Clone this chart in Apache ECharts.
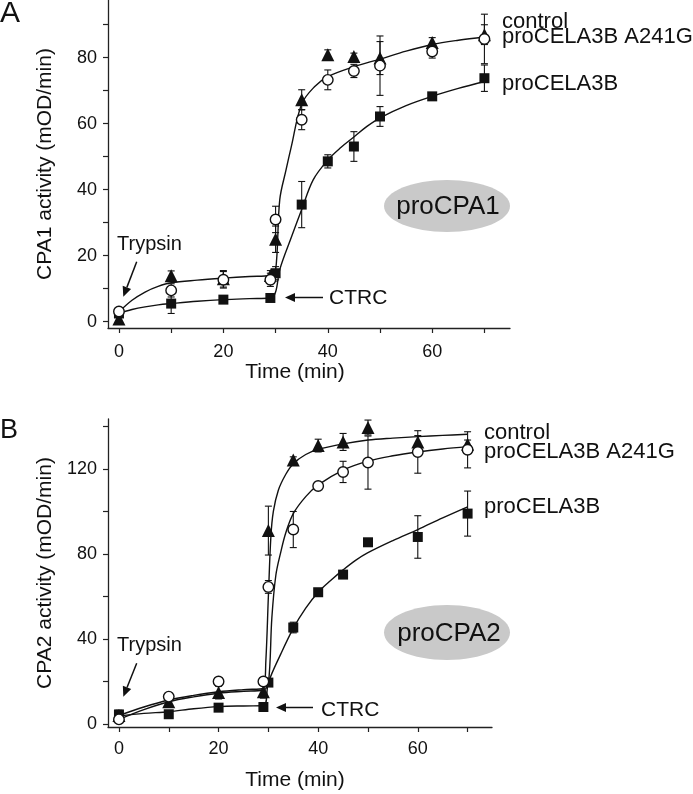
<!DOCTYPE html>
<html>
<head>
<meta charset="utf-8">
<script src="https://cdn.jsdelivr.net/npm/echarts@6/dist/echarts.min.js"></script>
<style>
  html, body { margin: 0; padding: 0; background: #fff; }
  #chart { width: 693px; height: 794px; }
</style>
</head>
<body>
<div id="chart"></div>
<script>
const times = [0, 10, 20, 29, 30, 35, 40, 45, 50, 60, 70];

// panel A - proCPA1
const cpa1Control = [0.8, 13.9, 13, 14, 25, 67.3, 80.9, 80.4, 79.9, 84.6, 87];
const cpa1ControlErr = [1, 1.5, 2.5, 1.5, 4, 3, 1.5, 1, 5, 1.5, 3];
const cpa1Mutant = [3.1, 9.5, 12.7, 12.7, 31, 61.2, 73.3, 76, 77.6, 81.9, 85.7];
const cpa1MutantErr = [1, 2, 2.5, 2, 4, 3, 3, 2, 9, 2, 7.5];
const cpa1Cela = [2.5, 5.5, 6.7, 7.2, 14.7, 35.5, 48.6, 53.1, 62.2, 68.3, 73.8];
const cpa1CelaErr = [1, 3, 1, 1, 2, 7, 2, 4.5, 3, 1, 4];
// fitted curves
const cpa1FitUpper = [[0, 3], [2.5, 6.5], [5, 9], [7.5, 10.7], [10, 11.8], [15, 12.6], [20, 13.2], [25, 13.7], [29, 14], [30, 15.5], [30.8, 37], [32, 46], [33, 53], [35, 66], [37.5, 71.3], [40, 74.3], [45, 77.3], [50, 79.6], [55, 82], [60, 84], [65, 85.3], [70, 86.3]];
const cpa1FitCela = [[0, 2.6], [2.5, 3.7], [5, 4.5], [7.5, 5.1], [10, 5.5], [15, 6.2], [20, 6.7], [25, 7], [29, 7.2], [30, 9], [30.8, 15.8], [33, 25.5], [35, 34], [37.2, 43], [40, 49], [42.5, 52.8], [45, 56], [47.5, 59.2], [50, 61.8], [55, 65.5], [60, 68.3], [65, 70.7], [70, 72.8]];

// panel B - proCPA2
const cpa2Control = [4, 10.5, 14.8, 15.2, 91, 124.2, 131, 132.7, 139.5, 132.7, 131.6];
const cpa2ControlErr = [2, 2, 3, 3, 11.5, 1.5, 3, 4, 3.5, 3, 2];
const cpa2Mutant = [2.2, 12.9, 20, 20, 64.5, 91.5, 112, 118.6, 123, 128, 129];
const cpa2MutantErr = [1, 1, 1, 1, 3, 8.5, 1.5, 5, 12.5, 10, 8.5];
const cpa2Cela = [4.5, 4.6, 7.7, 8, 19.5, 45.4, 62, 70.3, 85.5, 88, 99];
const cpa2CelaErr = [2, 1, 1, 1, 1, 2.5, 1, 1, 1, 10, 10.6];
const cpa2FitControl = [[0, 4], [5, 8], [10, 11.3], [15, 13.5], [20, 15.2], [25, 16.2], [29, 16.8], [29.5, 30], [30, 60], [30.5, 88], [31, 100], [32, 110], [33.5, 117.5], [35, 122.5], [37.5, 126.8], [40, 129.2], [45, 131.8], [50, 133.6], [55, 134.5], [60, 135.2], [65, 135.8], [70, 136.3]];
const cpa2FitMutant = [[0, 2.2], [5, 6.8], [10, 10.5], [15, 12.8], [20, 14.5], [25, 15.4], [29, 16], [30, 19], [30.7, 50], [31.5, 70], [32.5, 81], [33.5, 90], [35, 99], [37.5, 107], [40, 112.5], [45, 119.5], [50, 123.7], [55, 126.2], [60, 128], [65, 129.4], [70, 130.5]];
const cpa2FitCela = [[0, 3.8], [5, 5], [10, 5.8], [15, 7.2], [20, 8.2], [25, 8.5], [29, 8.6], [30, 19.5], [32.5, 33], [35, 45], [37.5, 54.5], [40, 62], [42.5, 67.5], [45, 72.5], [47.5, 77], [50, 80.6], [55, 86.3], [60, 91.5], [65, 97], [70, 102.2]];

const xTicks = [0, 10, 20, 30, 40, 50, 60, 70];
const xLabels = [0, 20, 40, 60];
const yTicksA = [0, 10, 20, 30, 40, 50, 60, 70, 80, 90];
const yLabelsA = [0, 20, 40, 60, 80];
const yTicksB = [0, 20, 40, 60, 80, 100, 120, 140];
const yLabelsB = [0, 40, 80, 120];

const FONT = "'Liberation Sans', Arial, sans-serif";
const INK = '#111';

function pts(vals) {
  return times.map((t, i) => [t, vals[i]]);
}
function errPts(vals, errs) {
  return times.map((t, i) => [t, vals[i], errs[i]]);
}

function errorBars(idx, vals, errs) {
  return {
    type: 'custom',
    xAxisIndex: idx,
    yAxisIndex: idx,
    data: errPts(vals, errs),
    z: 1,
    renderItem: function (params, api) {
      const x = api.value(0), y = api.value(1), e = api.value(2);
      const top = api.coord([x, y + e]);
      const bot = api.coord([x, y - e]);
      const w = 3.5;
      const st = { stroke: INK, lineWidth: 1.1 };
      return {
        type: 'group',
        children: [
          { type: 'line', shape: { x1: top[0], y1: top[1], x2: bot[0], y2: bot[1] }, style: st },
          { type: 'line', shape: { x1: top[0] - w, y1: top[1], x2: top[0] + w, y2: top[1] }, style: st },
          { type: 'line', shape: { x1: bot[0] - w, y1: bot[1], x2: bot[0] + w, y2: bot[1] }, style: st }
        ]
      };
    }
  };
}

function fitLine(idx, data) {
  return {
    type: 'line',
    xAxisIndex: idx,
    yAxisIndex: idx,
    data: data,
    smooth: 0.35,
    showSymbol: false,
    lineStyle: { color: INK, width: 1.4 },
    z: 2,
    silent: true
  };
}

function marks(idx, vals, symbol, size, filled) {
  return {
    type: 'scatter',
    xAxisIndex: idx,
    yAxisIndex: idx,
    data: pts(vals),
    symbol: symbol,
    symbolSize: size,
    itemStyle: filled
      ? { color: INK, opacity: 1 }
      : { color: '#fff', borderColor: INK, borderWidth: 1.4, opacity: 1 },
    z: 3
  };
}

function xAxis(idx, min, max, margin) {
  return {
    type: 'value',
    gridIndex: idx,
    min: min,
    max: max,
    splitLine: { show: false },
    axisLine: { onZero: false, lineStyle: { color: '#222', width: 1.3 } },
    axisTick: { customValues: xTicks, length: 5, lineStyle: { color: '#222', width: 1.2 } },
    axisLabel: { customValues: xLabels, color: INK, fontSize: 18, fontFamily: FONT, margin: margin }
  };
}

function yAxis(idx, min, max, ticks, labels, name) {
  return {
    type: 'value',
    gridIndex: idx,
    min: min,
    max: max,
    name: name,
    nameLocation: 'middle',
    nameGap: 52,
    nameTextStyle: { color: INK, fontSize: 21, fontFamily: FONT },
    splitLine: { show: false },
    axisLine: { onZero: false, lineStyle: { color: '#222', width: 1.3 } },
    axisTick: { customValues: ticks, length: 5, lineStyle: { color: '#222', width: 1.2 } },
    axisLabel: { customValues: labels, color: INK, fontSize: 18, fontFamily: FONT, margin: 11 }
  };
}

function text(str, x, y, size, align) {
  return {
    type: 'text',
    x: x,
    y: y,
    z: 10,
    style: { text: str, fill: INK, fontSize: size, fontFamily: FONT, align: align || 'left', verticalAlign: 'middle' }
  };
}

function arrow(x1, y1, x2, y2) {
  const dx = x2 - x1, dy = y2 - y1;
  const len = Math.sqrt(dx * dx + dy * dy);
  const ux = dx / len, uy = dy / len;
  const hl = 10, hw = 4.5;
  const bx = x2 - ux * hl, by = y2 - uy * hl;
  return [
    { type: 'line', z: 10, shape: { x1: x1, y1: y1, x2: bx, y2: by }, style: { stroke: INK, lineWidth: 1.5 } },
    { type: 'polygon', z: 10, shape: { points: [[x2, y2], [bx - uy * hw, by + ux * hw], [bx + uy * hw, by - ux * hw]] }, style: { fill: INK } }
  ];
}

const chart = echarts.init(document.getElementById('chart'), null, { renderer: 'canvas' });

chart.setOption({
  backgroundColor: '#fff',
  animation: false,
  grid: [
    { left: 108, top: 0, width: 402, height: 328 },
    { left: 108, top: 419, width: 384, height: 308 }
  ],
  xAxis: [
    xAxis(0, -2.1, 74.9, 15),
    xAxis(1, -2.2, 74.9, 13)
  ],
  yAxis: [
    yAxis(0, -1.9, 97.5, yTicksA, yLabelsA, 'CPA1 activity (mOD/min)'),
    yAxis(1, -1.4, 143.5, yTicksB, yLabelsB, 'CPA2 activity (mOD/min)')
  ],
  graphic: [
    text('A', 0, 14, 30),
    text('B', 0, 431, 27),
    text('Time (min)', 295, 372, 21, 'center'),
    text('Time (min)', 295, 780, 21, 'center'),
    // panel A annotations
    text('control', 502, 22, 22),
    text('proCELA3B A241G', 502, 37, 22),
    text('proCELA3B', 502, 83.5, 22),
    text('Trypsin', 117, 244, 20),
    ...arrow(136.7, 261.7, 123.3, 296.7),
    ...arrow(323, 297.5, 285, 297.5),
    text('CTRC', 329, 298.5, 21),
    { type: 'ellipse', z: 9, shape: { cx: 447, cy: 206, rx: 63, ry: 26 }, style: { fill: '#c9c9c9' } },
    text('proCPA1', 448, 206.5, 26, 'center'),
    // panel B annotations
    text('control', 484, 432.5, 22),
    text('proCELA3B A241G', 484, 451.5, 22),
    text('proCELA3B', 484, 506.5, 22),
    text('Trypsin', 117, 645, 20),
    ...arrow(136.7, 663.3, 123.3, 696.7),
    ...arrow(313, 707.5, 276, 707.5),
    text('CTRC', 321, 710, 21),
    { type: 'ellipse', z: 9, shape: { cx: 447, cy: 632.5, rx: 63, ry: 27.5 }, style: { fill: '#c9c9c9' } },
    text('proCPA2', 449, 634, 26, 'center')
  ],
  series: [
    errorBars(0, cpa1Control, cpa1ControlErr),
    errorBars(0, cpa1Mutant, cpa1MutantErr),
    errorBars(0, cpa1Cela, cpa1CelaErr),
    fitLine(0, cpa1FitUpper),
    fitLine(0, cpa1FitCela),
    marks(0, cpa1Cela, 'rect', 10, true),
    marks(0, cpa1Control, 'triangle', 13, true),
    marks(0, cpa1Mutant, 'circle', 10.5, false),

    errorBars(1, cpa2Control, cpa2ControlErr),
    errorBars(1, cpa2Mutant, cpa2MutantErr),
    errorBars(1, cpa2Cela, cpa2CelaErr),
    fitLine(1, cpa2FitControl),
    fitLine(1, cpa2FitMutant),
    fitLine(1, cpa2FitCela),
    marks(1, cpa2Cela, 'rect', 10, true),
    marks(1, cpa2Control, 'triangle', 13, true),
    marks(1, cpa2Mutant, 'circle', 10.5, false)
  ]
});
</script>
</body>
</html>
